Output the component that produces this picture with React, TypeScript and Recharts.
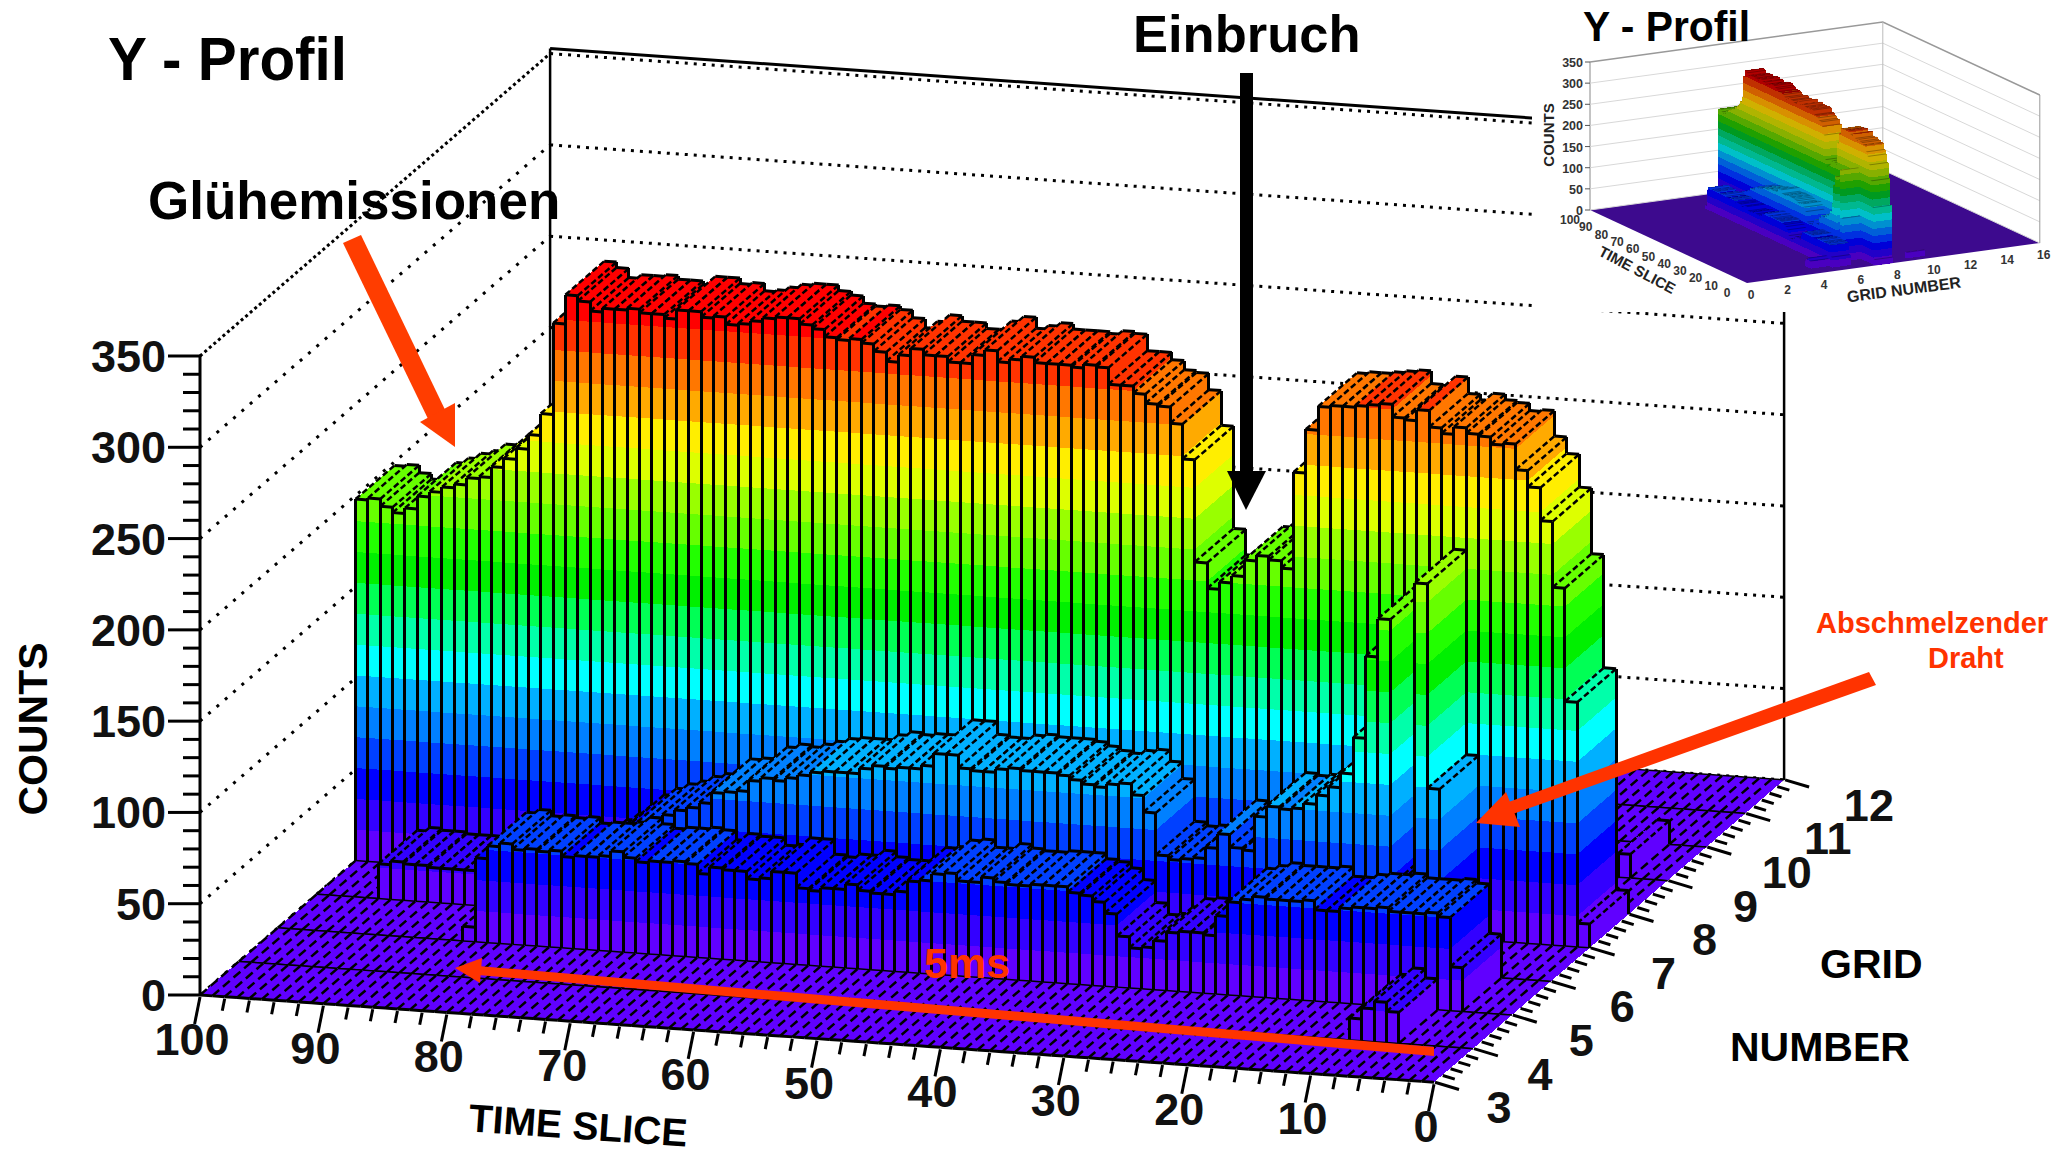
import { ScatterChart, Scatter, XAxis, YAxis } from "recharts"

// counts per time bin (time slice 100 -> 1), one list per grid row
const grid4 = [
  0,0,0,0,0,0,0,0,0,0,0,0,0,0,0,0,0,0,0,0,0,0,0,0,0,0,0,0,0,0,0,0,0,0,0,0,0,0,0,0,0,0,0,0,0,0,0,0,0,0,
  0,0,0,0,0,0,0,0,0,0,0,0,0,0,0,0,0,0,0,0,0,0,0,0,0,0,0,0,0,0,0,0,0,0,0,0,0,0,0,0,12,18,22,17,0,0,0,0,0,0,
]
const grid5 = [
  0,0,0,0,0,0,0,0,0,0,0,0,0,0,0,8,46,53,55,52,53,52,53,50,51,51,52,55,52,50,51,51,52,51,46,50,49,49,45,46,
  50,50,42,41,43,43,46,43,42,42,44,50,51,55,56,52,52,55,53,52,52,53,53,53,50,49,46,40,28,22,23,27,32,33,33,32,
  43,51,53,55,54,54,54,55,50,50,52,53,53,54,52,52,52,53,51,24,0,0,0,0,
]
const grid6 = [
  0,0,0,0,0,19,21,20,20,19,19,19,19,19,19,19,20,21,23,25,27,29,33,37,42,48,52,55,57,60,62,65,71,72,73,79,81,80,82,84,
  86,87,87,87,90,92,91,92,92,94,101,101,94,93,93,95,96,95,95,95,94,92,90,89,91,92,86,77,54,52,53,54,60,68,61,60,
  79,85,84,85,88,93,98,106,126,171,192,46,50,213,101,0,0,0,0,0,0,0,0,0,
]
const grid7 = [
  198,199,195,192,195,202,205,208,210,214,215,221,226,232,240,252,302,318,315,310,312,312,313,311,311,309,314,314,311,312,308,309,311,313,314,314,
  311,309,305,304,305,303,299,294,298,302,299,299,296,296,301,304,298,300,302,299,299,299,298,300,299,290,290,286,281,280,271,252,
  196,182,186,190,199,202,200,196,249,273,286,287,287,288,289,290,283,282,288,279,276,280,277,276,272,273,259,250,232,196,134,13,
]
const grid9 = [
  0,0,0,0,0,0,0,0,0,0,0,0,0,0,0,0,0,0,0,0,0,0,0,0,0,0,0,0,0,0,0,0,0,0,0,0,0,0,0,0,0,0,0,0,0,0,0,0,0,0,
  0,0,0,0,0,0,0,0,0,0,0,0,0,0,0,0,0,0,0,0,0,0,0,0,0,0,0,0,0,0,0,0,0,0,0,0,0,0,0,0,0,0,0,0,0,0,13,0,0,0,
]
const emptyRow = grid4.map(() => 0)

// back to front, so nearer rows paint over farther ones
const mainRows = [
  { grid: 11, values: emptyRow },
  { grid: 10, values: emptyRow },
  { grid: 9, values: grid9 },
  { grid: 8, values: emptyRow },
  { grid: 7, values: grid7 },
  { grid: 6, values: grid6 },
  { grid: 5, values: grid5 },
  { grid: 4, values: grid4 },
  { grid: 3, values: emptyRow },
]
const insetRows = mainRows.filter((row) => row.values !== emptyRow)

const countLevels = [0, 50, 100, 150, 200, 250, 300, 350]
const mainCountTicks = Array.from({ length: 36 }, (_, i) => i * 10)
const mainTimeTicks = Array.from({ length: 51 }, (_, i) => i * 2)
const mainGridTicks = Array.from({ length: 46 }, (_, i) => 3 + i * 0.2)
const insetTimeTicks = [0, 10, 20, 30, 40, 50, 60, 70, 80, 90, 100]
const insetGridTicks = [0, 2, 4, 6, 8, 10, 12, 14, 16]

const rainbow = [
  "#6000ff", "#3300ff", "#0000ff", "#0040ff", "#0080ff", "#00b0ff", "#00ffff", "#00ffaa", "#00ff55", "#00f000",
  "#22ff00", "#66ff00", "#99ff00", "#ddff00", "#ffee00", "#ffaa00", "#ff7700", "#ff3300", "#ff0000",
]
const darkRainbow = [
  "#4a00c0", "#2200c8", "#0000d8", "#0030e0", "#0060d8", "#0090d0", "#00c0c8", "#00b890", "#00a860", "#009a20",
  "#20a000", "#55a800", "#88b000", "#b0b400", "#d0b000", "#d89000", "#d06000", "#c03000", "#b00000",
]
const bandSize = 16.9
const font = "'Liberation Sans', Arial, sans-serif"

const mainView = {
  plotLeft: 200, plotBottom: 995, binW: 12.34, slope: 0.0707, rowDx: 38.9, rowDy: 33.6, gridStart: 3,
  pxPerCount: 1.826, palette: rainbow, outlined: true, gridSpan: 9,
}
const insetView = {
  plotLeft: 58, plotBottom: 210, binW: 1.57, slope: 0.465, rowDx: 18.3, rowDy: 2.5, gridStart: 0,
  pxPerCount: 0.423, palette: darkRainbow, outlined: false, gridSpan: 16,
}

const rowPoints = (values: number[]) =>
  values.map((count, i) => ({ t: 100 - i, count, next: values[i + 1] ?? 0 }))

const pts = (list: number[][]) => list.map((p) => p.join(",")).join(" ")

function LegoBin({ cx, payload, view, grid }: any) {
  const { binW: w, slope, rowDx, rowDy, pxPerCount: p, palette, outlined } = view
  const u = grid - view.gridStart
  const sx = cx + u * rowDx
  const sb = view.plotBottom + slope * (cx - view.plotLeft) - u * rowDy
  const count = payload.count
  const next = payload.next
  const faces = []

  const index = Math.min(Math.floor(count / bandSize), palette.length - 1)
  for (let k = 0; k <= index && count > 0; k++) {
    const lo = k * bandSize
    const hi = Math.min((k + 1) * bandSize, count)
    faces.push(
      <polygon
        key={`f${k}`}
        shapeRendering="crispEdges"
        fill={palette[k]}
        points={pts([
          [sx, sb - lo * p],
          [sx + w, sb + w * slope - lo * p],
          [sx + w, sb + w * slope - hi * p],
          [sx, sb - hi * p],
        ])}
      />,
    )
    // the end face only shows where the next bin is lower
    if (hi > next) {
      const from = Math.max(lo, next)
      faces.push(
        <polygon
          key={`s${k}`}
          shapeRendering="crispEdges"
          fill={palette[k]}
          points={pts([
            [sx + w, sb + w * slope - from * p],
            [sx + w + rowDx, sb + w * slope - rowDy - from * p],
            [sx + w + rowDx, sb + w * slope - rowDy - hi * p],
            [sx + w, sb + w * slope - hi * p],
          ])}
        />,
      )
    }
  }

  const top = sb - count * p
  const a = [sx, top]
  const b = [sx + w, top + w * slope]
  const c = [sx + w + rowDx, top + w * slope - rowDy]
  const d = [sx + rowDx, top - rowDy]
  const hatch = count > 0 ? "6 3" : "9 5"

  return (
    <g>
      {faces}
      <polygon points={pts([a, b, c, d])} fill={palette[index]} shapeRendering="crispEdges" />
      {!outlined && <polygon points={pts([a, b, c, d])} fill="#000" fillOpacity={0.3} />}
      {outlined && (
        <g stroke="#000" fill="none">
          <line x1={a[0]} y1={a[1]} x2={d[0]} y2={d[1]} strokeWidth={2.5} strokeDasharray={hatch} />
          <line x1={d[0]} y1={d[1]} x2={c[0]} y2={c[1]} strokeWidth={count > 0 ? 3 : 1.5} />
          <line x1={a[0]} y1={a[1]} x2={b[0]} y2={b[1]} strokeWidth={count > 0 ? 3 : u === 0 ? 3 : 1.5} />
          {count > 0 && (
            <g shapeRendering="crispEdges">
              <line x1={a[0]} y1={a[1]} x2={a[0]} y2={sb} strokeWidth={3} />
              <line x1={b[0]} y1={b[1]} x2={b[0]} y2={sb + w * slope} strokeWidth={3} />
              {count > next && (
                <line x1={c[0]} y1={c[1]} x2={c[0]} y2={sb + w * slope - rowDy - next * p} strokeWidth={3} />
              )}
            </g>
          )}
          {count > 0 && (
            <line x1={b[0]} y1={b[1]} x2={c[0]} y2={c[1]} strokeWidth={2.5} strokeDasharray={hatch} />
          )}
        </g>
      )}
    </g>
  )
}

function MainWallLine({ cx, cy, payload }: any) {
  const { binW, slope, rowDx, rowDy, gridSpan, pxPerCount } = mainView
  const dx = cx + gridSpan * rowDx
  const dy = cy - gridSpan * rowDy
  const rx = dx + 100 * binW
  const ry = dy + 100 * binW * slope
  const isTop = payload.count === 350
  return (
    <g fill="none" stroke="#000">
      <line x1={cx} y1={cy} x2={dx} y2={dy} strokeWidth={3} strokeDasharray={isTop ? "3 3" : "3 8"} />
      <line x1={dx} y1={dy} x2={rx} y2={ry} strokeWidth={3} strokeDasharray="3 6" />
      {isTop && (
        <>
          <line x1={dx} y1={dy - 5} x2={rx} y2={ry - 5} strokeWidth={3} />
          <line x1={dx} y1={dy - 5} x2={dx} y2={dy + 350 * pxPerCount} strokeWidth={2.5} />
          <line x1={rx} y1={ry} x2={rx} y2={ry + 350 * pxPerCount} strokeWidth={2.5} />
        </>
      )}
    </g>
  )
}

function MainCountTick({ y, payload }: any) {
  const major = payload.value % 50 === 0
  const axisX = mainView.plotLeft
  return (
    <g>
      <line x1={axisX - (major ? 32 : 17)} y1={y} x2={axisX} y2={y} stroke="#000" strokeWidth={3} />
      {major && (
        <text x={axisX - 34} y={y + 16} textAnchor="end" fontFamily={font} fontWeight="bold" fontSize={45} fill="#111">
          {payload.value}
        </text>
      )}
    </g>
  )
}

function MainTimeTick({ x, payload }: any) {
  const major = payload.value % 10 === 0
  const y = mainView.plotBottom + mainView.slope * (x - mainView.plotLeft)
  const len = major ? 27 : 12
  return (
    <g>
      <line x1={x} y1={y + 2} x2={x - len * 0.2} y2={y + 2 + len} stroke="#000" strokeWidth={3} />
      {major && (
        <text x={x - 8} y={y + 60} textAnchor="middle" fontFamily={font} fontWeight="bold" fontSize={45} fill="#111">
          {payload.value}
        </text>
      )}
    </g>
  )
}

function MainGridTick({ cx, cy, payload }: any) {
  const u = payload.grid - 3
  const x = cx + u * mainView.rowDx
  const y = cy + (cx - mainView.plotLeft) * mainView.slope - u * mainView.rowDy
  const major = Math.abs(payload.grid - Math.round(payload.grid)) < 0.01
  const len = major ? 24 : 12
  return (
    <g>
      <line x1={x + 1} y1={y} x2={x + 1 + len} y2={y + len * 0.3} stroke="#000" strokeWidth={3} />
      {major && (
        <text
          x={x + 65 + 2.2 * u}
          y={y + 41}
          textAnchor="middle"
          fontFamily={font}
          fontWeight="bold"
          fontSize={45}
          fill="#111"
        >
          {Math.round(payload.grid)}
        </text>
      )}
    </g>
  )
}

function MainChart() {
  return (
    <ScatterChart width={2071} height={1156} margin={{ top: 356, right: 637, bottom: 0, left: 0 }}>
      <XAxis
        type="number"
        dataKey="t"
        domain={[0, 100]}
        reversed
        height={161}
        ticks={mainTimeTicks}
        interval={0}
        axisLine={false}
        tickLine={false}
        tickSize={0}
        tick={<MainTimeTick />}
      />
      <YAxis
        type="number"
        dataKey="count"
        domain={[0, 350]}
        width={200}
        ticks={mainCountTicks}
        interval={0}
        axisLine={{ stroke: "#000", strokeWidth: 3 }}
        tickLine={false}
        tickSize={0}
        tick={<MainCountTick />}
      />
      <Scatter
        data={countLevels.map((count) => ({ t: 100, count }))}
        isAnimationActive={false}
        shape={<MainWallLine />}
      />
      {mainRows.map((row) => (
        <Scatter
          key={row.grid}
          data={rowPoints(row.values)}
          isAnimationActive={false}
          shape={<LegoBin view={mainView} grid={row.grid} />}
        />
      ))}
      <Scatter
        data={mainGridTicks.map((grid) => ({ t: 0, count: 0, grid }))}
        isAnimationActive={false}
        shape={<MainGridTick />}
      />
    </ScatterChart>
  )
}

function InsetWalls({ cx, cy, payload }: any) {
  const { binW, slope, rowDx, rowDy, gridSpan, pxPerCount } = insetView
  const dx = cx + gridSpan * rowDx
  const dy = cy - gridSpan * rowDy
  const rx = dx + 100 * binW
  const ry = dy + 100 * binW * slope
  const isTop = payload.count === 350
  const isFloor = payload.count === 0
  return (
    <g fill="none">
      {isFloor && (
        <polygon
          fill="#3d0a8e"
          points={pts([[cx, cy], [cx + 100 * binW, cy + 100 * binW * slope], [rx, ry], [dx, dy]])}
        />
      )}
      <polyline points={pts([[cx, cy], [dx, dy], [rx, ry]])} stroke={isTop ? "#999" : "#d8d8d8"} strokeWidth={isTop ? 1.5 : 1} />
      {isTop && (
        <>
          <line x1={dx} y1={dy} x2={dx} y2={dy + 350 * pxPerCount} stroke="#bbb" />
          <line x1={rx} y1={ry} x2={rx} y2={ry + 350 * pxPerCount} stroke="#999" />
        </>
      )}
    </g>
  )
}

function InsetCountTick({ y, payload }: any) {
  const axisX = insetView.plotLeft
  return (
    <g>
      <line x1={axisX - 5} y1={y} x2={axisX} y2={y} stroke="#555" />
      <text x={axisX - 7} y={y + 5} textAnchor="end" fontFamily={font} fontWeight="bold" fontSize={12.5} fill="#333">
        {payload.value}
      </text>
    </g>
  )
}

function InsetTimeTick({ x, payload }: any) {
  const y = insetView.plotBottom + insetView.slope * (x - insetView.plotLeft)
  return (
    <text x={x - 20} y={y + 14} textAnchor="middle" fontFamily={font} fontWeight="bold" fontSize={12} fill="#333">
      {payload.value}
    </text>
  )
}

function InsetGridTick({ cx, cy, payload }: any) {
  const x = cx + payload.grid * insetView.rowDx
  const y = cy + (cx - insetView.plotLeft) * insetView.slope - payload.grid * insetView.rowDy
  return (
    <text x={x + 4} y={y + 16} textAnchor="middle" fontFamily={font} fontWeight="bold" fontSize={12} fill="#333">
      {payload.grid}
    </text>
  )
}

function InsetChart() {
  return (
    <div style={{ position: "absolute", left: 1532, top: 0, width: 539, height: 312, background: "#fff" }}>
      <ScatterChart width={539} height={312} margin={{ top: 62, right: 324, bottom: 0, left: 0 }}>
        <XAxis
          type="number"
          dataKey="t"
          domain={[0, 100]}
          reversed
          height={102}
          ticks={insetTimeTicks}
          interval={0}
          axisLine={false}
          tickLine={false}
          tickSize={0}
          tick={<InsetTimeTick />}
        />
        <YAxis
          type="number"
          dataKey="count"
          domain={[0, 350]}
          width={58}
          ticks={countLevels}
          interval={0}
          axisLine={{ stroke: "#888" }}
          tickLine={false}
          tickSize={0}
          tick={<InsetCountTick />}
        />
        <Scatter
          data={countLevels.map((count) => ({ t: 100, count }))}
          isAnimationActive={false}
          shape={<InsetWalls />}
        />
        {insetRows.map((row) => (
          <Scatter
            key={row.grid}
            data={rowPoints(row.values).filter((p) => p.count > 0)}
            isAnimationActive={false}
            shape={<LegoBin view={insetView} grid={row.grid} />}
          />
        ))}
        <Scatter
          data={insetGridTicks.map((grid) => ({ t: 0, count: 0, grid }))}
          isAnimationActive={false}
          shape={<InsetGridTick />}
        />
      </ScatterChart>
      <svg width={539} height={312} style={{ position: "absolute", left: 0, top: 0 }}>
        <g fontFamily={font} fontWeight="bold" fill="#000">
          <text x={51} y={41} fontSize={42} textLength={167} lengthAdjust="spacingAndGlyphs">Y - Profil</text>
          <text x={22} y={135} fontSize={15} fill="#222" textAnchor="middle" transform="rotate(-90 22 135)">COUNTS</text>
          <text x={105} y={275} fontSize={15} fill="#222" textAnchor="middle" transform="rotate(28 105 270)">TIME SLICE</text>
          <text x={372} y={295} fontSize={16} fill="#222" textAnchor="middle" transform="rotate(-7.5 372 290)">GRID NUMBER</text>
        </g>
      </svg>
    </div>
  )
}

function Annotations() {
  const red = "#ff3d00"
  return (
    <svg width={2071} height={1156} style={{ position: "absolute", left: 0, top: 0 }}>
      <g fontFamily={font} fontWeight="bold" fill="#000">
        <text x={108} y={80} fontSize={62} textLength={239} lengthAdjust="spacingAndGlyphs">Y - Profil</text>
        <text x={148} y={219} fontSize={53}>Glühemissionen</text>
        <text x={1133} y={52} fontSize={52.5}>Einbruch</text>
        <text x={1820} y={978} fontSize={41}>GRID</text>
        <text x={1730} y={1061} fontSize={41}>NUMBER</text>
        <text x={47} y={729} fontSize={41} textAnchor="middle" transform="rotate(-90 47 729)">COUNTS</text>
        <text x={578} y={1139} fontSize={39} textAnchor="middle" transform="rotate(4 578 1128)">TIME SLICE</text>
        <text x={1816} y={633} fontSize={29} fill="#ff3300">Abschmelzender</text>
        <text x={1928} y={668} fontSize={29} fill="#ff3300">Draht</text>
        <text x={924} y={978} fontSize={43} fill="#ff3300">5ms</text>
      </g>
      <g fill={red} stroke="none">
        <polygon points="343,243 361,235 449,418 431,425" />
        <polygon points="455,447 420,422 455,403" />
      </g>
      <g fill="#000">
        <rect x={1240} y={73} width={13} height={400} />
        <polygon points="1227,471 1266,471 1246,510" />
      </g>
      <g fill="#ff3300">
        <polygon points="1434,1047 1434,1056 478,975 478,966" />
        <polygon points="455,968 482,958 480,983" />
        <polygon points="1869,672 1876,685 1510,815 1503,804" />
        <polygon points="1476,823 1506,792 1520,827" />
      </g>
    </svg>
  )
}

export default function App() {
  return (
    <div style={{ position: "absolute", left: 0, top: 0, width: 2071, height: 1156, background: "#fff" }}>
      <MainChart />
      <InsetChart />
      <Annotations />
    </div>
  )
}
